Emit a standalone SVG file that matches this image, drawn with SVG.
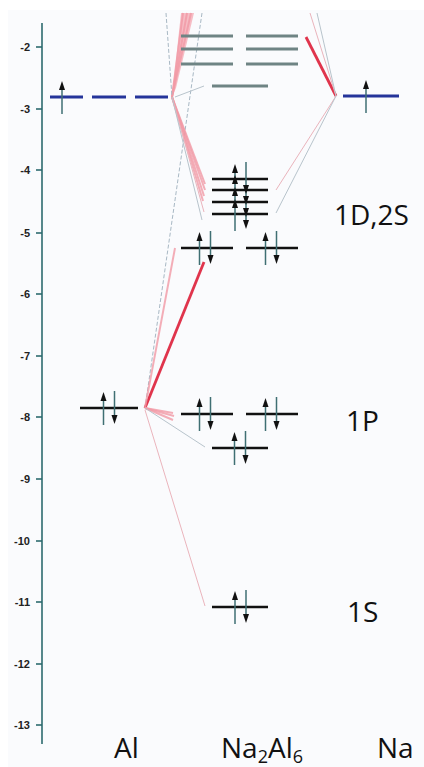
<svg xmlns="http://www.w3.org/2000/svg" xmlns:xlink="http://www.w3.org/1999/xlink" width="424" height="767" viewBox="0 0 424 767">
<style>
.ax{stroke:#2d6b6e;stroke-width:1.6;fill:none}
.tl{font-family:"Liberation Sans",Arial,sans-serif;font-size:11px;font-weight:bold;fill:#222;text-anchor:end}
.big{font-family:"Open Sans","Noto Sans",sans-serif;font-size:28px;fill:#111}
.lv{stroke:#111;stroke-width:2.6}
.gl{stroke:#6e8484;stroke-width:3}
.bl{stroke:#24349a;stroke-width:3}
.ar{stroke:#3f6f73;stroke-width:1.5}
.hd{fill:#111}
.pk{stroke:#f29aa6;stroke-width:2;opacity:0.8}
.rd{stroke:#e0344c;stroke-width:2.8}
.th{stroke:#b8c4cc;stroke-width:1}
.thp{stroke:#eab4bc;stroke-width:1}
.ds{stroke:#a8b8c4;stroke-width:1;stroke-dasharray:4 2}
</style>
<defs>
<g id="pair">
<line class="ar" x1="-5.5" y1="17" x2="-5.5" y2="-9"/>
<polygon class="hd" points="-5.5,-16 -8.5,-7 -2.5,-7"/>
<line class="ar" x1="5.5" y1="-17" x2="5.5" y2="9"/>
<polygon class="hd" points="5.5,16 2.5,7 8.5,7"/>
</g>
<g id="single">
<line class="ar" x1="0" y1="17" x2="0" y2="-9"/>
<polygon class="hd" points="0,-16 -3,-7 3,-7"/>
</g>
</defs>
<rect x="0" y="0" width="424" height="767" fill="#ffffff"/>
<rect x="8" y="10" width="416" height="757" fill="#fafbfd"/>

<g id="axis">
<line class="ax" x1="42" y1="23" x2="42" y2="744"/>
<line class="ax" x1="36" y1="47" x2="42" y2="47"/><text class="tl" x="30" y="51">-2</text>
<line class="ax" x1="36" y1="109" x2="42" y2="109"/><text class="tl" x="30" y="113">-3</text>
<line class="ax" x1="36" y1="170" x2="42" y2="170"/><text class="tl" x="30" y="174">-4</text>
<line class="ax" x1="36" y1="233" x2="42" y2="233"/><text class="tl" x="30" y="237">-5</text>
<line class="ax" x1="36" y1="294" x2="42" y2="294"/><text class="tl" x="30" y="298">-6</text>
<line class="ax" x1="36" y1="356" x2="42" y2="356"/><text class="tl" x="30" y="360">-7</text>
<line class="ax" x1="36" y1="417" x2="42" y2="417"/><text class="tl" x="30" y="421">-8</text>
<line class="ax" x1="36" y1="479" x2="42" y2="479"/><text class="tl" x="30" y="483">-9</text>
<line class="ax" x1="36" y1="541" x2="42" y2="541"/><text class="tl" x="30" y="545">-10</text>
<line class="ax" x1="36" y1="602" x2="42" y2="602"/><text class="tl" x="30" y="606">-11</text>
<line class="ax" x1="36" y1="664" x2="42" y2="664"/><text class="tl" x="30" y="668">-12</text>
<line class="ax" x1="36" y1="725" x2="42" y2="725"/><text class="tl" x="30" y="729">-13</text>
</g>

<g id="connectors">
<polygon points="181,13 194,13 176,88 172,97" fill="#f4a8b2" opacity="0.75"/>
<line class="pk" x1="172" y1="97" x2="183" y2="13"/>
<line class="pk" x1="172" y1="97" x2="187" y2="13"/>
<line class="pk" x1="172" y1="97" x2="191" y2="13"/>
<line class="ds" x1="166" y1="13" x2="172" y2="97"/>
<line class="ds" x1="202" y1="13" x2="145" y2="408"/>
<line class="th" x1="175" y1="97" x2="204" y2="86"/>
<line class="pk" x1="172" y1="97" x2="205" y2="184"/>
<line class="pk" x1="172" y1="97" x2="205" y2="190"/>
<line class="pk" x1="172" y1="97" x2="204" y2="196"/>
<line class="pk" x1="172" y1="97" x2="203" y2="201"/>
<line class="thp" x1="172" y1="97" x2="204" y2="212"/>
<line class="th" x1="172" y1="97" x2="202" y2="220"/>
<line class="rd" x1="306" y1="37" x2="336" y2="96"/>
<line class="thp" x1="310" y1="13" x2="336" y2="96"/>
<line class="th" x1="317" y1="13" x2="336" y2="96"/>
<line class="thp" x1="336" y1="96" x2="276" y2="190"/>
<line class="th" x1="336" y1="96" x2="276" y2="213"/>
<line class="rd" x1="145" y1="408" x2="204" y2="262"/>
<line class="pk" x1="145" y1="408" x2="175" y2="248"/>
<line class="pk" x1="145" y1="408" x2="173" y2="413"/>
<line class="pk" x1="145" y1="408" x2="174" y2="416"/>
<line class="pk" x1="145" y1="408" x2="173" y2="420"/>
<line class="th" x1="145" y1="408" x2="205" y2="447"/>
<line class="thp" x1="145" y1="410" x2="205" y2="606"/>
</g>

<g id="al">
<line class="bl" x1="50" y1="97" x2="83" y2="97"/>
<line class="bl" x1="92" y1="97" x2="126" y2="97"/>
<line class="bl" x1="135" y1="97" x2="168" y2="97"/>
<use xlink:href="#single" x="62" y="97"/>
<line class="lv" x1="80" y1="408" x2="138" y2="408"/>
<use xlink:href="#pair" x="109" y="408"/>
</g>

<g id="na">
<line class="bl" x1="343" y1="96" x2="399" y2="96"/>
<use xlink:href="#single" x="366" y="96"/>
</g>

<g id="cluster-empty">
<line class="gl" x1="181" y1="36" x2="233" y2="36"/>
<line class="gl" x1="246" y1="36" x2="298" y2="36"/>
<line class="gl" x1="181" y1="49" x2="233" y2="49"/>
<line class="gl" x1="246" y1="49" x2="298" y2="49"/>
<line class="gl" x1="181" y1="64" x2="233" y2="64"/>
<line class="gl" x1="246" y1="64" x2="298" y2="64"/>
<line class="gl" x1="212" y1="86" x2="268" y2="86"/>
</g>

<g id="level-1D2S">
<line class="lv" x1="212" y1="179" x2="268" y2="179"/>
<line class="lv" x1="212" y1="190" x2="268" y2="190"/>
<line class="lv" x1="212" y1="202" x2="268" y2="202"/>
<line class="lv" x1="212" y1="214" x2="268" y2="214"/>
<line class="ar" x1="235" y1="231" x2="235" y2="170"/>
<line class="ar" x1="246" y1="162" x2="246" y2="224"/>
<polygon class="hd" points="235,164 232,173 238,173"/>
<polygon class="hd" points="235,175 232,184 238,184"/>
<polygon class="hd" points="235,187 232,196 238,196"/>
<polygon class="hd" points="235,199 232,208 238,208"/>
<polygon class="hd" points="246,194 243,185 249,185"/>
<polygon class="hd" points="246,205 243,196 249,196"/>
<polygon class="hd" points="246,217 243,208 249,208"/>
<polygon class="hd" points="246,229 243,220 249,220"/>
<line class="lv" x1="181" y1="248" x2="233" y2="248"/>
<use xlink:href="#pair" x="205" y="248"/>
<line class="lv" x1="246" y1="248" x2="298" y2="248"/>
<use xlink:href="#pair" x="271" y="248"/>
<text class="big" x="334" y="225">1D,2S</text>
</g>

<g id="level-1P">
<line class="lv" x1="181" y1="414" x2="233" y2="414"/>
<use xlink:href="#pair" x="205" y="414"/>
<line class="lv" x1="246" y1="414" x2="298" y2="414"/>
<use xlink:href="#pair" x="271" y="414"/>
<line class="lv" x1="212" y1="448" x2="268" y2="448"/>
<use xlink:href="#pair" x="240" y="448"/>
<text class="big" x="346" y="431">1P</text>
</g>

<g id="level-1S">
<line class="lv" x1="212" y1="607" x2="268" y2="607"/>
<use xlink:href="#pair" x="240.5" y="607"/>
<text class="big" x="347" y="622">1S</text>
</g>

<g id="labels">
<text class="big" x="114" y="758" font-size="27">Al</text>
<text class="big" x="221" y="758" font-size="27">Na<tspan font-size="18" dy="5">2</tspan><tspan dy="-5">Al</tspan><tspan font-size="18" dy="5">6</tspan></text>
<text class="big" x="377" y="758" font-size="27">Na</text>
</g>
</svg>
